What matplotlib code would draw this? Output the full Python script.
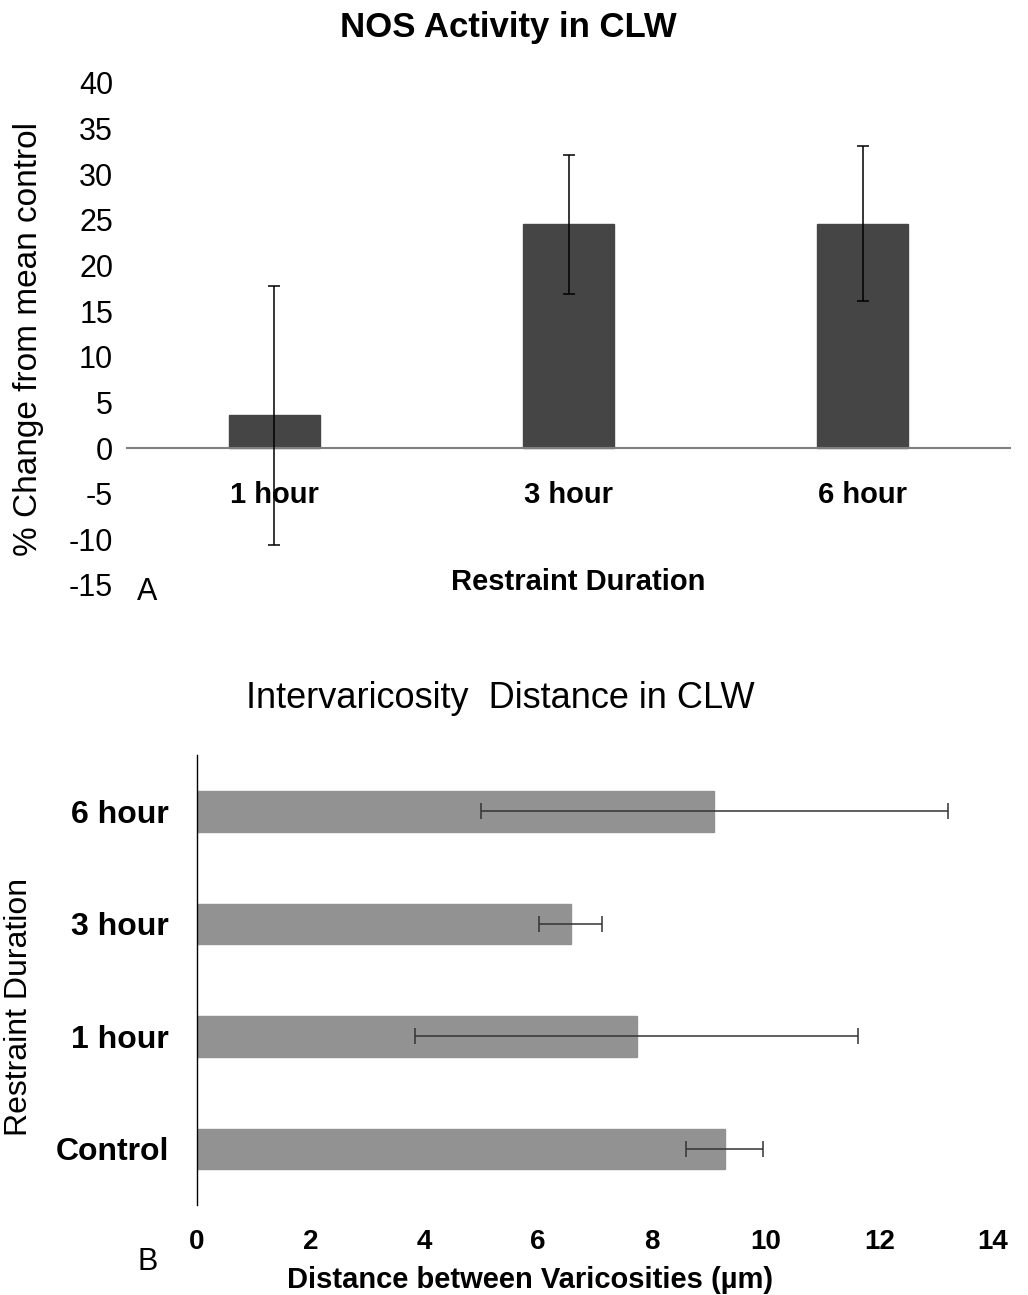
import numpy as np
import matplotlib
matplotlib.use("Agg")
import matplotlib.pyplot as plt

plt.rcParams['font.family'] = ['Liberation Sans', 'DejaVu Sans']
plt.rcParams['axes.unicode_minus'] = False

# panel A data
nos_labels = ['1 hour', '3 hour', '6 hour']
nos_mean = [3.6, 24.5, 24.6]
nos_err = [14.2, 7.6, 8.5]

# panel B data
dist_labels = ['Control', '1 hour', '3 hour', '6 hour']
dist_mean = [9.28, 7.73, 6.57, 9.10]
dist_err = [0.68, 3.9, 0.56, 4.1]

fig = plt.figure(figsize=(10.28, 12.95), dpi=100)

# ---- panel A
axA = fig.add_axes([127/1028, 1-585/1295, (1010-127)/1028, (585-83)/1295])
for s in ['left', 'top', 'right']:
    axA.spines[s].set_visible(False)
axA.spines['bottom'].set_position(('data', 0))
axA.spines['bottom'].set_color('#7f7f7f')
axA.spines['bottom'].set_linewidth(1.5)
x = np.arange(len(nos_labels))
axA.bar(x, nos_mean, width=0.31, color='#454545', edgecolor='#454545', zorder=2)
axA.errorbar(x, nos_mean, yerr=nos_err, fmt='none', ecolor='black',
             elinewidth=1.1, capsize=4, capthick=1.1, zorder=3)
axA.set_xlim(-0.5, 2.5)
axA.set_ylim(-15, 40)
axA.set_yticks(np.arange(-15, 41, 5))
axA.set_xticks(x)
axA.set_xticklabels(nos_labels, fontweight='bold')
axA.tick_params(axis='y', length=0, pad=10, labelsize=22)
axA.tick_params(axis='x', length=0, pad=24, labelsize=21)
axA.set_ylabel('% Change from mean control', fontsize=24)
axA.yaxis.set_label_coords(-0.094, 0.49)
fig.text(578/1028, 1-582/1295, 'Restraint Duration', ha='center', va='center',
         fontsize=21, fontweight='bold')
fig.text(147/1028, 1-592/1295, 'A', ha='center', va='center', fontsize=22)
fig.text(508/1028, 1-28/1295, 'NOS Activity in CLW', ha='center', va='center',
         fontsize=25, fontweight='bold')

# ---- panel B
axB = fig.add_axes([197/1028, 1-1205/1295, (993-197)/1028, (1205-755)/1295])
for s in ['bottom', 'top', 'right']:
    axB.spines[s].set_visible(False)
axB.spines['left'].set_linewidth(1.0)
y = np.arange(len(dist_labels))
axB.barh(y, dist_mean, height=0.36, color='#929292', edgecolor='#929292', zorder=2)
axB.errorbar(dist_mean, y, xerr=dist_err, fmt='none', ecolor='#333333',
             elinewidth=1.1, capsize=6, capthick=1.1, zorder=3)
axB.set_xlim(0, 14)
axB.set_ylim(-0.5, 3.5)
axB.set_xticks(np.arange(0, 15, 2))
axB.set_yticks(y)
axB.set_yticklabels(dist_labels)
axB.tick_params(axis='x', length=0, pad=17, labelsize=20)
axB.tick_params(axis='y', length=0, pad=20, labelsize=23)
for lab in axB.get_xticklabels() + axB.get_yticklabels():
    lab.set_fontweight('bold')
axB.set_ylabel('Restraint Duration', fontsize=23)
axB.yaxis.set_label_coords(-0.205, 0.44)
fig.text(530/1028, 1-1280/1295, 'Distance between Varicosities (\u00b5m)', ha='center',
         va='center', fontsize=21, fontweight='bold')
fig.text(148/1028, 1-1262/1295, 'B', ha='center', va='center', fontsize=22)
fig.text(500/1028, 1-698/1295, 'Intervaricosity  Distance in CLW', ha='center', va='center',
         fontsize=26)

fig.savefig('out.png', dpi=100, facecolor='white')
